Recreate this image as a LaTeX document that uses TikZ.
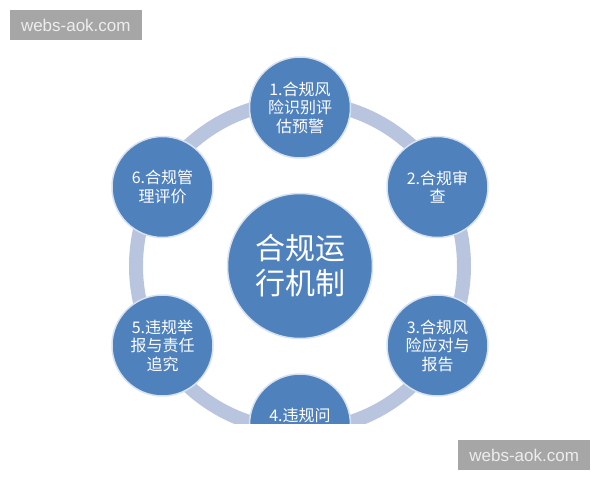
\documentclass[tikz,border=0pt]{standalone}
\usepackage{fontspec}
\setmainfont{Noto Sans CJK SC}
\newfontfamily\markfont{Liberation Sans}
\usepackage{tikz}
\definecolor{phaseblue}{RGB}{79,129,189}
\definecolor{rimblue}{RGB}{214,226,241}
\definecolor{ringgray}{RGB}{185,197,222}
\definecolor{wmgray}{RGB}{166,166,166}
\tikzset{
    x=1pt, y=-1pt, % one unit is one pixel, origin at the top left
    phase/.style={ % the six small circles
        circle,
        minimum size=101pt,
        inner sep=0pt,
        fill=phaseblue,
        draw=rimblue,
        line width=1.5pt,
        text=white,
        align=center,
        font=\fontsize{16}{18.5}\selectfont
    },
    hub/.style={ % the big circle in the middle
        phase,
        minimum size=145pt,
        font=\fontsize{30}{35}\selectfont
    },
    ring/.style={ % the band behind the circles
        draw=ringgray,
        line width=14pt
    },
    wmbox/.style={ % grey stamp boxes
        fill=wmgray,
        text=white!93!black,
        minimum width=131.7pt,
        minimum height=30pt,
        inner sep=0pt,
        font=\markfont\fontsize{17}{20}\selectfont
    }
}
\begin{document}
\begin{tikzpicture}
    \useasboundingbox (0,0) rectangle (600,480);
    \begin{scope}
        \clip (0,0) rectangle (600,423.3);
        \coordinate (mid) at (300,266);
        \draw[ring] (mid) circle[radius=164pt];

        \node[hub] (hub) at (mid) {合规运\\行机制};
        \node[phase] (p1) at (300,107.5) {1.合规风\\险识别评\\估预警};
        \node[phase] (p2) at (437.5,187) {2.合规审\\查};
        \node[phase] (p3) at (437.5,345.5) {3.合规风\\险应对与\\报告};
        \node[phase] (p4) at (300,424.5) {4.违规问\\\mbox{}};
        \node[phase] (p5) at (162.5,345.5) {5.违规举\\报与责任\\追究};
        \node[phase] (p6) at (162.5,187) {6.合规管\\理评价};
    \end{scope}

    \node[wmbox] (wmtop) at (75.8,25) {webs-aok.com};
    \node[wmbox] (wmbottom) at (524.2,455) {webs-aok.com};
\end{tikzpicture}
\end{document}
